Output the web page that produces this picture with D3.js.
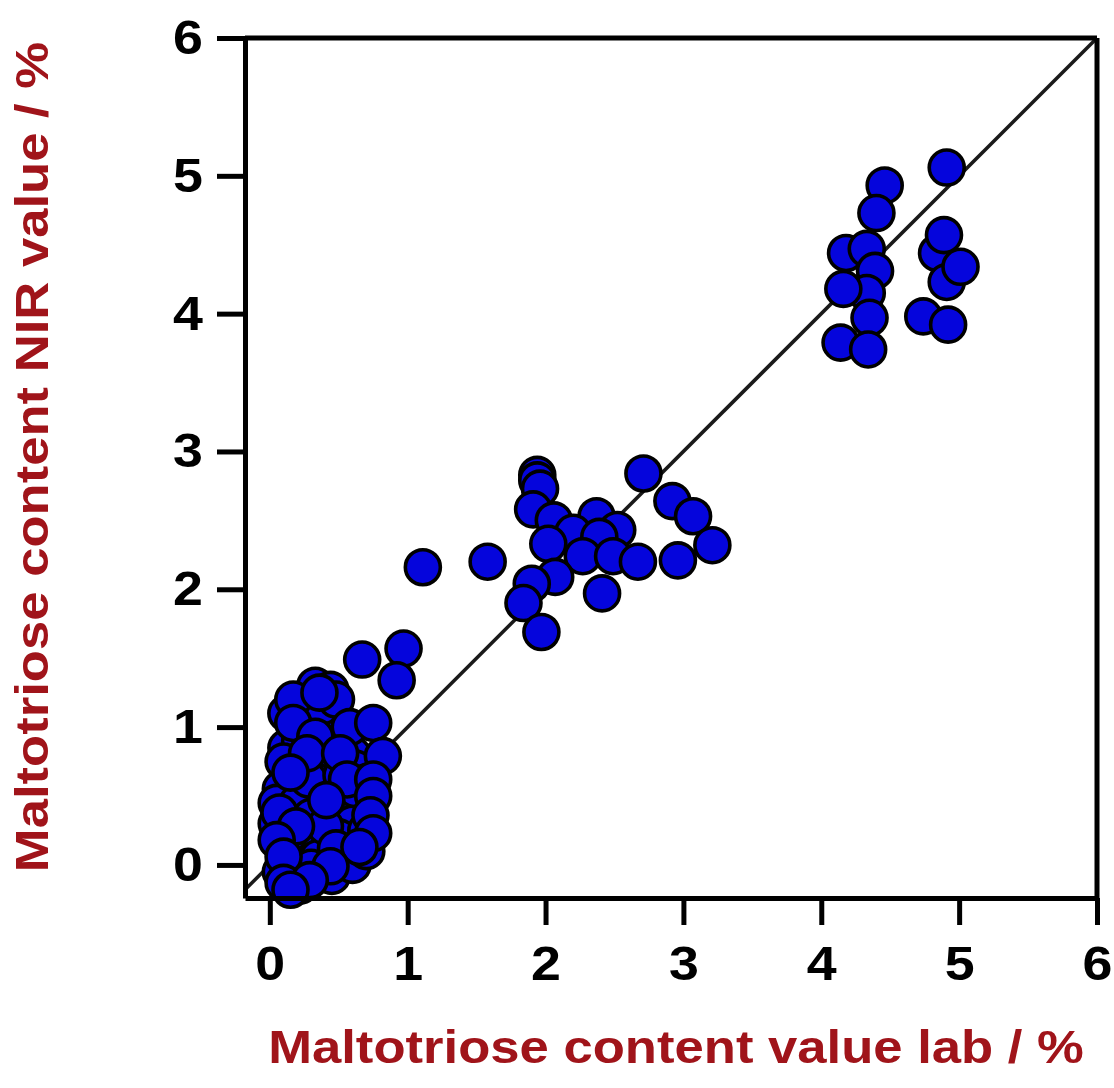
<!DOCTYPE html>
<html>
<head>
<meta charset="utf-8">
<script src="https://cdn.jsdelivr.net/npm/d3@7"></script>
<style>
  html, body { margin: 0; padding: 0; background: #fff; }
  svg { display: block; }
</style>
</head>
<body>
<svg id="chart" width="1114" height="1088"></svg>
<script>
// ---- data ----
const tickValues = [0, 1, 2, 3, 4, 5, 6];
const xTitle = "Maltotriose content value lab / %";
const yTitle = "Maltotriose content NIR value / %";

// lab value (x) and NIR value (y), low cluster (background points first)
const labLow = [0.33,0.44,0.12,0.22,0.45,0.25,0.40,0.50,0.12,0.22,0.45,0.60,0.10,0.30,0.45,0.62,0.70,0.08,0.25,0.35,0.55,0.65,0.05,0.20,0.30,0.50,0.60,0.05,0.35,0.50,0.25,0.70,0.55,0.20,0.35,0.08,0.45,0.60,0.70,0.22,
  0.38,0.28,0.52,0.14,0.40,0.62,0.30,0.48,
  0.17,0.48,0.36,0.17,0.58,0.75,0.33,0.27,0.51,0.82,0.15,0.56,0.75,0.41,0.75,0.73,0.07,0.19,0.75,0.05,0.65,0.10,0.44,0.10,0.29,0.15];
const nirLow = [1.30,1.27,1.10,1.15,1.10,1.05,1.00,0.95,0.85,0.90,0.85,0.80,0.75,0.70,0.70,0.70,0.60,0.55,0.55,0.60,0.50,0.45,0.45,0.45,0.35,0.35,0.30,0.30,0.20,0.20,0.15,0.25,0.05,0.00,0.05,-0.05,-0.08,0.00,0.10,-0.15,
  1.15,0.62,0.65,0.22,0.28,0.55,-0.02,0.12,
  1.20,1.20,1.25,1.03,1.00,1.03,0.93,0.81,0.81,0.79,0.67,0.62,0.62,0.47,0.50,0.36,0.38,0.28,0.23,0.18,0.13,0.06,-0.01,-0.13,-0.11,-0.18];

// mid-low isolated points
const labMidLow = [0.67, 0.97, 0.92, 1.11];
const nirMidLow = [1.49, 1.57, 1.34, 2.16];

// middle cluster (~2 %)
const labMid = [1.94,1.94,1.96,1.91,2.06,2.92,3.07,2.37,2.52,2.20,2.39,2.02,2.27,2.49,2.67,2.96,3.21,2.07,1.90,1.84,2.41,1.97,1.58,2.71];
const nirMid = [2.83,2.79,2.73,2.58,2.50,2.64,2.53,2.53,2.43,2.41,2.38,2.33,2.24,2.24,2.20,2.21,2.32,2.09,2.04,1.90,1.97,1.69,2.20,2.84];

// high cluster (~4.5 %)
const labHigh = [4.91,4.46,4.40,4.18,4.33,4.39,4.33,4.16,4.35,4.14,4.34,4.84,4.89,4.91,5.01,4.74,4.92];
const nirHigh = [5.06,4.93,4.73,4.44,4.47,4.31,4.15,4.18,3.97,3.79,3.74,4.44,4.57,4.23,4.34,3.98,3.92];

// ---- drawing ----
const svg = d3.select("#chart");
const x = d3.scaleLinear().domain([-0.18, 6]).range([245, 1097]);
const y = d3.scaleLinear().domain([-0.24, 6]).range([898, 38]);

const axisColor = "#000";
const titleColor = "#a0141a";
const font = "'Liberation Sans', Arial, Helvetica, sans-serif";

// diagonal line y = x
svg.append("line")
  .attr("x1", x(-0.18)).attr("y1", y(-0.18))
  .attr("x2", x(6)).attr("y2", y(6))
  .attr("stroke", "#1a1a1a").attr("stroke-width", 3.6);

// points
const points = [];
const addSeries = (xs, ys) => xs.forEach((v, i) => points.push([v, ys[i]]));
addSeries(labLow, nirLow);
addSeries(labMidLow, nirMidLow);
addSeries(labMid, nirMid);
addSeries(labHigh, nirHigh);

svg.append("g").selectAll("circle").data(points).join("circle")
  .attr("cx", d => x(d[0]))
  .attr("cy", d => y(d[1]))
  .attr("r", 17.5)
  .attr("fill", "#0505dc")
  .attr("stroke", "#000")
  .attr("stroke-width", 3.6);

// frame top / right
svg.append("line").attr("x1", x(-0.18)).attr("x2", x(6)).attr("y1", y(6)).attr("y2", y(6))
  .attr("stroke", axisColor).attr("stroke-width", 5);
svg.append("line").attr("x1", x(6)).attr("x2", x(6)).attr("y1", y(6)).attr("y2", y(-0.24))
  .attr("stroke", axisColor).attr("stroke-width", 5);

// axes
const gx = svg.append("g").attr("transform", `translate(0,${y(-0.24)})`)
  .call(d3.axisBottom(x).tickValues(tickValues).tickSize(27).tickSizeOuter(0).tickPadding(21).tickFormat(d3.format("d")));
const gy = svg.append("g").attr("transform", `translate(${x(-0.18)},0)`)
  .call(d3.axisLeft(y).tickValues(tickValues).tickSize(28).tickSizeOuter(0).tickPadding(14).tickFormat(d3.format("d")));

[gx, gy].forEach(g => {
  g.select(".domain").attr("stroke", axisColor).attr("stroke-width", 5);
  g.selectAll(".tick line").attr("stroke", axisColor).attr("stroke-width", 5);
  g.selectAll(".tick text").attr("fill", "#000")
    .style("font-family", font).style("font-weight", "bold").style("font-size", "48px")
    .each(function() {
      const t = d3.select(this);
      const tx = +t.attr("x") || 0;
      const ty = +t.attr("y") || 0;
      t.attr("x", 0).attr("y", 0).attr("transform", `translate(${tx},${ty}) scale(1.12,1)`);
    });
});

// titles
svg.append("text")
  .attr("transform", "translate(676,1063) scale(1.12,1)")
  .attr("text-anchor", "middle")
  .attr("fill", titleColor)
  .style("font-family", font).style("font-weight", "bold").style("font-size", "47px")
  .text(xTitle);

svg.append("text")
  .attr("transform", "translate(48,457) rotate(-90) scale(1.12,1)")
  .attr("text-anchor", "middle")
  .attr("fill", titleColor)
  .style("font-family", font).style("font-weight", "bold").style("font-size", "47px")
  .text(yTitle);
</script>
</body>
</html>
